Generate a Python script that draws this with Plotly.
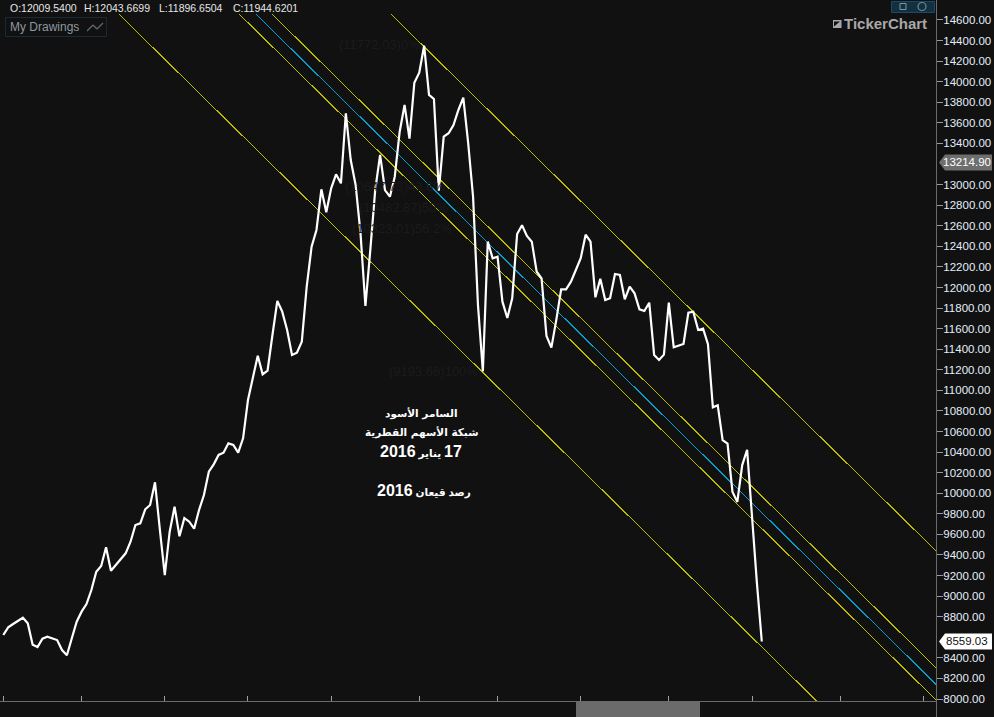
import plotly.graph_objects as go

closes = [8622,8697,8729,8761,8790,8736,8528,8505,8586,8606,8590,8573,8476,8425,8590,8751,8849,8923,9059,9237,
9293,9475,9247,9302,9368,9416,9529,9691,9708,9844,9886,10106,9643,9205,9626,9869,9581,9759,9723,9655,
9837,9983,10209,10281,10372,10394,10485,10469,10394,10534,10906,11133,11337,11156,11191,11538,11869,11765,11587,11344,
11366,11473,12008,12396,12559,12954,12731,12964,13100,13012,13693,13239,12996,12526,11820,12364,12947,13288,12947,12882,
13077,13514,13774,13446,13990,14088,14350,13871,13832,12941,13466,13499,13579,13725,13845,13404,12882,11830,11185,12445,
12284,12299,11862,11703,11895,12520,12604,12500,12445,12153,12089,11528,11415,11682,11982,11982,12056,12170,12284,12513,
12445,11904,12085,11878,11895,12131,12121,11885,12008,11943,11788,11771,11852,11344,11295,11347,11852,11418,11431,11451,
11755,11764,11587,11600,11448,10835,10855,10517,10482,10015,9915,10274,10423,9740,9128,8559.03]
bars = list(range(len(closes)))

channel_upper_x = [79.2, 190.6];  channel_upper_y = [14658, 9439]
channel_mid_hi_x = [54.9, 190.6]; channel_mid_hi_y = [14658, 8304]
channel_center_x = [51.6, 190.6]; channel_center_y = [14658, 8143]
channel_mid_lo_x = [48.2, 190.6]; channel_mid_lo_y = [14658, 7990]
channel_lower_x = [23.6, 166.2];  channel_lower_y = [14658, 7981]

hidden_ticks = [13200, 8600]
y_ticks = [v for v in range(8000, 14601, 200) if v not in hidden_ticks]
x_ticks = [0,16,33,50,67,85,101,118,136,153,171,188]
ohlc_labels = ["O:12009.5400", "H:12043.6699", "L:11896.6504", "C:11944.6201"]
fib_labels = ["(11772.03)0%", "(10647.73)43.6%", "(10482.87)50%", "(10323.01)56.2%", "(9193.66)100%"]
fib_values = [14357, 12986, 12782, 12578, 11188]
current_tag = 13214.90
last_tag = 8559.03

W, H = 994, 717
L, R, T, B = 0, 58, 14, 16
PW, PH = W - L - R, H - T - B
BG = "#111111"
YEL = "#bdbd00"
CY = "#0a9fca"

def px(x): return x / PW
def py(y): return (H - B - y) / PH

fig = go.Figure()
for xs, ys, c in [
    (channel_upper_x, channel_upper_y, YEL),
    (channel_mid_hi_x, channel_mid_hi_y, YEL),
    (channel_center_x, channel_center_y, CY),
    (channel_mid_lo_x, channel_mid_lo_y, YEL),
    (channel_lower_x, channel_lower_y, YEL),
]:
    fig.add_trace(go.Scatter(x=xs, y=ys, mode="lines", line=dict(color=c, width=1), hoverinfo="skip"))
fig.add_trace(go.Scatter(x=bars, y=closes, mode="lines", line=dict(color="#ffffff", width=2.2), hoverinfo="skip"))

shapes = []
ann = []

def rect(x0, y0, x1, y1, fill, line=None, width=1, layer="above"):
    shapes.append(dict(type="rect", xref="paper", yref="paper", x0=px(x0), x1=px(x1), y0=py(y0), y1=py(y1),
                       fillcolor=fill, line=dict(color=line or fill, width=width if line else 0), layer=layer))

def seg(x0, y0, x1, y1, color, width=1):
    shapes.append(dict(type="line", xref="paper", yref="paper", x0=px(x0), x1=px(x1), y0=py(y0), y1=py(y1),
                       line=dict(color=color, width=width)))

def text(x, y, s, color, size, family="Liberation Sans", anchor="left", bold=False):
    ann.append(dict(xref="paper", yref="paper", x=px(x), y=py(y), text=f"<b>{s}</b>" if bold else s, showarrow=False,
                    xanchor=anchor, yanchor="middle", align="center", borderpad=0,
                    font=dict(family=family, size=size, color=color)))

# frame
seg(936.5, 0, 936.5, 717, "#6a6a6a")
rect(576, 702, 700, 717, "#6b6b6b")

# header
for x, s in zip([8.5, 83, 158, 232], ohlc_labels):
    text(x, 7.5, s, "#e6e6e6", 10.5)

# My Drawings box
rect(5.5, 17.5, 106.5, 36.5, "#111111", "#1b2b36")
text(9, 27, "My Drawings", "#8b98a0", 12)
for a, b in [((87, 31), (93, 25)), ((93, 25), (97, 29)), ((97, 29), (103, 23))]:
    seg(a[0], a[1], b[0], b[1], "#5f6a70", 1.2)

# window buttons
rect(891.5, 1.5, 934.5, 12.5, "#12303f", "#1c4a62")
rect(900, 3.5, 906, 9.5, "rgba(0,0,0,0)", "#7d96a3")
shapes.append(dict(type="circle", xref="paper", yref="paper", x0=px(918), x1=px(926), y0=py(2.5), y1=py(10.5),
                   line=dict(color="#6f8794", width=1.2)))

# logo
rect(833, 20, 841.5, 28, "#a8a8a8")
shapes.append(dict(type="path", xref="paper", yref="paper", fillcolor=BG, line=dict(width=0),
                   path=f"M {px(834)} {py(26.5)} L {px(840)} {py(21.5)} L {px(834)} {py(21.5)} Z"))
text(843, 24, "TickerChart", "#a8a8a8", 15, bold=True)

# value tags
def tag(val, fill, tc):
    d = 9.72
    tip = px(939)
    shapes.append(dict(type="path", xref="paper", yref="y", fillcolor=fill, line=dict(width=0),
                       path=f"M {tip} {val} L {px(945)} {val + 8 * d} L {px(992)} {val + 8 * d} "
                            f"L {px(992)} {val - 8 * d} L {px(945)} {val - 8 * d} Z"))
    ann.append(dict(xref="paper", yref="y", x=px(967), y=val, text=f"{val:.2f}", showarrow=False, xanchor="center",
                    yanchor="middle", font=dict(family="Liberation Sans", size=11.5, color=tc)))

tag(current_tag, "#6e6e6e", "#ffffff")
tag(last_tag, "#ffffff", "#111111")

# faint fibonacci labels
for s, v, x in zip(fib_labels, fib_values, [337, 343, 357, 350, 387]):
    ann.append(dict(xref="paper", yref="y", x=px(x), y=v, text=s, showarrow=False, xanchor="left", yanchor="middle",
                    font=dict(family="Liberation Sans", size=13, color="#1b1b1b")))

# Arabic note
AR = "DejaVu Sans"
def big(s): return f"<span style='font-size:16px'>{s}</span>"
text(421.5, 413, "السامر الأسود", "#ffffff", 10.5, family=AR, anchor="center", bold=True)
text(421, 432, "شبكة الأسهم القطرية", "#ffffff", 10.5, family=AR, anchor="center", bold=True)
text(420.5, 452, "\u202B" + big("17") + " يناير " + big("2016") + "\u202C", "#ffffff", 10.5,
     family="Liberation Sans, DejaVu Sans", anchor="center", bold=True)
text(423.5, 490, "\u202Bرصد قيعان " + big("2016") + "\u202C", "#ffffff", 10.5,
     family="Liberation Sans, DejaVu Sans", anchor="center", bold=True)

fig.update_layout(
    width=W, height=H, autosize=False, showlegend=False,
    paper_bgcolor=BG, plot_bgcolor=BG,
    margin=dict(l=L, r=R, t=T, b=B, pad=0),
    shapes=shapes, annotations=ann,
    xaxis=dict(range=[-0.674, 190.6], tickmode="array", tickvals=x_ticks, ticks="inside", ticklen=5,
               tickcolor="#a0a0a0", tickwidth=1, showticklabels=False, showgrid=False, zeroline=False,
               showline=True, linecolor="#6a6a6a", linewidth=1),
    yaxis=dict(range=[7980.6, 14658], side="right", tickmode="array", tickvals=y_ticks,
               ticktext=[f"{v:.2f}" for v in y_ticks], ticks="outside", ticklen=6,
               tickcolor="#9a9a9a", tickwidth=1, showgrid=False, zeroline=False, showline=False,
               ticklabelstandoff=-2,
               tickfont=dict(family="Liberation Sans", size=11.5, color="#e4eefa")),
)
post = ("document.body.style.margin='0';document.body.style.background='#111111';"
        "document.documentElement.style.overflow='hidden';"
        "var ls=document.querySelectorAll('.scatterlayer .trace .js-line');"
        "for(var i=0;i<ls.length-1;i++){ls[i].style.shapeRendering='crispEdges';}")
fig.write_html("out.html", config={"displayModeBar": False}, post_script=post)
